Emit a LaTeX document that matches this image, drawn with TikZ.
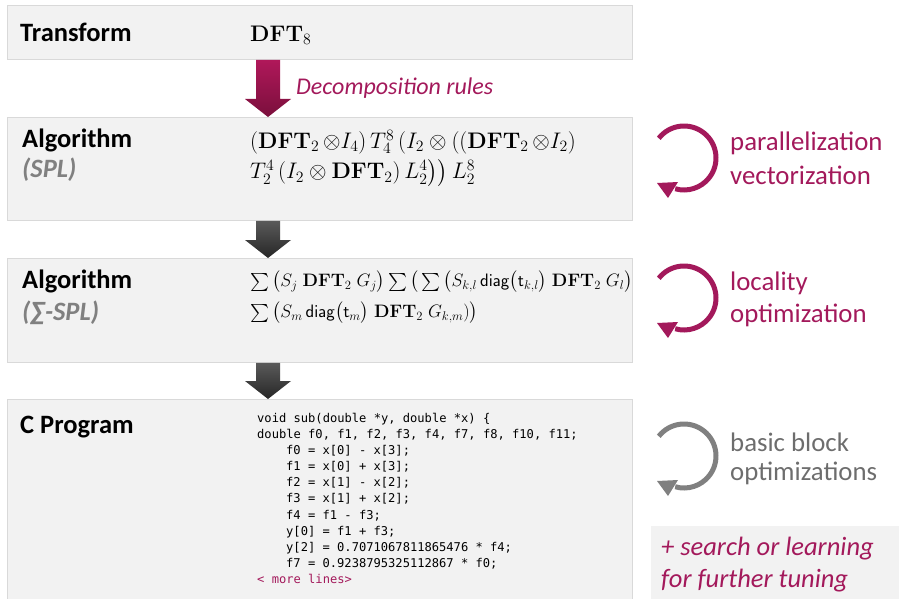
\RequirePackage{fix-cm}
\documentclass[tikz,border=0pt]{standalone}
\usepackage{amsmath,amssymb}
\usepackage[no-math]{fontspec}
\setmainfont{Carlito}
\newfontfamily\codefont{DejaVu Sans Mono}
\usetikzlibrary{calc,arrows.meta}
\definecolor{maroon}{HTML}{A3195B}
\definecolor{maroonA}{HTML}{B0185A}
\definecolor{maroonB}{HTML}{7A0F3C}
\definecolor{darkA}{HTML}{5A5A5A}
\definecolor{darkB}{HTML}{262626}
\definecolor{boxfill}{HTML}{F2F2F2}
\definecolor{boxline}{HTML}{D9D9D9}
\definecolor{graytxt}{HTML}{808080}
\newcommand\blockarr[4]{%
\shade[top color=#3,bottom color=#4]
 let \p1=(#1.south), \p2=(#2.north) in
 (256pt,\y1) -- (280pt,\y1) -- (280pt,\y2+18pt) -- (291pt,\y2+18pt) -- (268pt,\y2) -- (245pt,\y2+18pt) -- (256pt,\y2+18pt) -- cycle;}
\newcommand\looparr[2]{% #1 centre, #2 colour
\draw[line width=5pt, #2] ($(#1)+(-142:32)$) arc[start angle=-142, end angle=106, radius=32];
\fill[#2] ($(#1)+(-27,25)$) -- ($(#1)+(-6,24)$) -- ($(#1)+(-16,40)$) -- cycle;}
\newcommand\D{\mathbf{DFT}}
\tikzset{
  stage/.style={draw=boxline, fill=boxfill, line width=0.8pt, anchor=north west, minimum width=625pt, inner sep=0pt},
  head/.style={anchor=west, font=\fontsize{26.5}{30}\selectfont\bfseries, inner sep=0pt},
  sub/.style={anchor=west, font=\fontsize{26.5}{30}\selectfont\bfseries\itshape, text=graytxt, inner sep=0pt},
  mth/.style={anchor=west, font=\fontsize{22.5}{25}\selectfont, inner sep=0pt},
  mths/.style={anchor=west, font=\fontsize{18}{20}\selectfont, inner sep=0pt},
  side/.style={anchor=west, font=\fontsize{26.8}{30}\selectfont, text=maroon, inner sep=0pt},
}
\begin{document}
\begin{tikzpicture}[x=1pt,y=-1pt]
\useasboundingbox (0,0) rectangle (899,599);
% stage boxes
\node[stage, minimum height=54pt] (t) at (7,5) {};
\node[stage, minimum height=103pt] (a) at (7,117) {};
\node[stage, minimum height=104pt] (s) at (7,258) {};
\node[stage, minimum height=205pt] (c) at (7,399) {};
% arrows
\blockarr{t}{a}{maroonA}{maroonB}
\blockarr{a}{s}{darkA}{darkB}
\blockarr{s}{c}{darkA}{darkB}
\node[anchor=west, font=\fontsize{24}{28}\selectfont\itshape, text=maroon, inner sep=0pt] (dr) at (296,88) {Decomposition rules};
% left headings
\node[head] (h1) at (20,32) {Transform};
\node[head] (h2) at (22,140) {Algorithm};
\node[sub] (h2s) at (22,170) {(SPL)};
\node[head] (h3) at (22,281) {Algorithm};
\node[sub] (h3s) at (22,313) {(∑-SPL)};
\node[head] (h4) at (20,427) {C Program};
% formulas
\node[mth] (m1) at (250,35) {$\D_8$};
\node[mth] (m2a) at (250,142) {$(\D_2\,{\otimes}I_4)\,T^8_4\,(I_2\otimes((\D_2\,{\otimes}I_2)$};
\node[mth] (m2b) at (250,173) {$T^4_2\,(I_2\otimes\D_2)\,L^4_2\big)\big)\,L^8_2$};
\node[mths] (m3a) at (250,282) {$\sum\big(S_j\;\D_2\;G_j\big)\sum\big(\sum\big(S_{k,l}\,\mathsf{diag}\big(\mathsf{t}_{k,l}\big)\;\D_2\;G_l\big)$};
\node[mths] (m3b) at (250,313) {$\sum\big(S_m\,\mathsf{diag}\big(\mathsf{t}_m\big)\;\D_2\;G_{k,m})\big)$};
% code
\node[anchor=north west, inner sep=0pt, align=left, font=\codefont\fontsize{12.1}{16.1}\selectfont] (code) at (257,413) {%
void sub(double *y, double *x) \{\\
double f0, f1, f2, f3, f4, f7, f8, f10, f11;\\
\hspace*{29pt}f0 = x[0] - x[3];\\
\hspace*{29pt}f1 = x[0] + x[3];\\
\hspace*{29pt}f2 = x[1] - x[2];\\
\hspace*{29pt}f3 = x[1] + x[2];\\
\hspace*{29pt}f4 = f1 - f3;\\
\hspace*{29pt}y[0] = f1 + f3;\\
\hspace*{29pt}y[2] = 0.7071067811865476 * f4;\\
\hspace*{29pt}f7 = 0.9238795325112867 * f0;\\
\textcolor{maroon}{< more lines>}};
% side loops
\coordinate (l1) at (684,158);
\coordinate (l2) at (684,298);
\coordinate (l3) at (684,456);
\looparr{l1}{maroon}
\looparr{l2}{maroon}
\looparr{l3}{graytxt}
\node[side] (p1) at (730,143) {parallelization};
\node[side] (p2) at (730,175) {vectorization};
\node[side] (q1) at (730,283) {locality};
\node[side] (q2) at (730,315) {optimization};
\node[side, text=graytxt!85!black] (r1) at (730,442) {basic block};
\node[side, text=graytxt!85!black] (r2) at (730,473) {optimizations};
% search box
\node[fill=boxfill, anchor=north west, minimum width=250pt, minimum height=76pt, inner sep=0pt] (sb) at (651,526) {};
\node[anchor=west, inner sep=0pt, font=\fontsize{26.5}{30}\selectfont\itshape, text=maroon] (sb1) at (661,549) {+ search or learning};
\node[anchor=west, inner sep=0pt, font=\fontsize{26.5}{30}\selectfont\itshape, text=maroon] (sb2) at (661,581) {for further tuning};
\end{tikzpicture}
\end{document}
